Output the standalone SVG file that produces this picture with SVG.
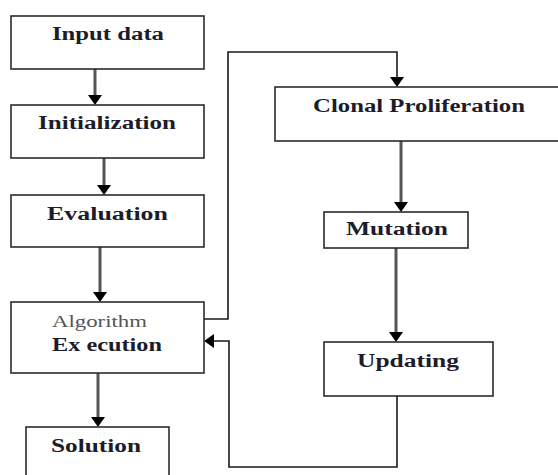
<svg xmlns="http://www.w3.org/2000/svg" width="558" height="475" viewBox="0 0 558 475">
<style>
.box{fill:#fff;stroke:#2b2b2b;stroke-width:1.6}
.t{font-family:"Liberation Serif","Times New Roman",serif;font-size:18px;font-weight:bold;fill:#1c1c2a}
.thin{font-family:"Liberation Serif","Times New Roman",serif;font-size:16px;fill:#555}
.c{fill:none;stroke:#555;stroke-width:3}
.fb{fill:none;stroke:#1a1a1a;stroke-width:1.6}
</style>
<defs>
<marker id="ah" markerUnits="userSpaceOnUse" markerWidth="10" markerHeight="14" refX="0" refY="7" orient="auto" viewBox="0 0 10 14">
<path d="M0,0 L10,7 L0,14 z" fill="#000"/>
</marker>
</defs>
<rect width="558" height="475" fill="#fff"/>
<g id="connectors">
<line class="c" x1="95" y1="69" x2="95" y2="95" marker-end="url(#ah)"/>
<line class="c" x1="104" y1="158" x2="104" y2="185" marker-end="url(#ah)"/>
<line class="c" x1="100" y1="247" x2="100" y2="292" marker-end="url(#ah)"/>
<line class="c" x1="98" y1="373" x2="98" y2="417" marker-end="url(#ah)"/>
<line class="c" x1="401" y1="141" x2="401" y2="202" marker-end="url(#ah)"/>
<line class="c" x1="396" y1="248" x2="396" y2="332" marker-end="url(#ah)"/>
<path class="fb" d="M204,319 H228 V52 H397 V77" marker-end="url(#ah)"/>
<path class="fb" d="M397,396 V467 H229 V341 H214" marker-end="url(#ah)"/>
</g>
<g id="input">
<rect class="box" x="11" y="16" width="193" height="53"/>
<text class="t" x="52" y="40" textLength="112" lengthAdjust="spacingAndGlyphs">Input data</text>
</g>
<g id="init">
<rect class="box" x="11" y="105" width="193" height="53"/>
<text class="t" x="38" y="129" textLength="138" lengthAdjust="spacingAndGlyphs">Initialization</text>
</g>
<g id="eval">
<rect class="box" x="11" y="195" width="193" height="52"/>
<text class="t" x="47" y="220" textLength="121" lengthAdjust="spacingAndGlyphs">Evaluation</text>
</g>
<g id="algo">
<rect class="box" x="11" y="302" width="193" height="71"/>
<text class="thin" x="52" y="327" textLength="95" lengthAdjust="spacingAndGlyphs">Algorithm</text>
<text class="t" x="52" y="351" textLength="110" lengthAdjust="spacingAndGlyphs">Ex ecution</text>
</g>
<g id="solution">
<rect class="box" x="26" y="427" width="143" height="60"/>
<text class="t" x="51" y="452" textLength="90" lengthAdjust="spacingAndGlyphs">Solution</text>
</g>
<g id="clonal">
<rect class="box" x="275" y="87" width="290" height="54"/>
<text class="t" x="313" y="112" textLength="212" lengthAdjust="spacingAndGlyphs">Clonal Proliferation</text>
</g>
<g id="mutation">
<rect class="box" x="324" y="212" width="144" height="36"/>
<text class="t" x="346" y="235" textLength="102" lengthAdjust="spacingAndGlyphs">Mutation</text>
</g>
<g id="updating">
<rect class="box" x="324" y="342" width="169" height="54"/>
<text class="t" x="357" y="367" textLength="102" lengthAdjust="spacingAndGlyphs">Updating</text>
</g>
</svg>
